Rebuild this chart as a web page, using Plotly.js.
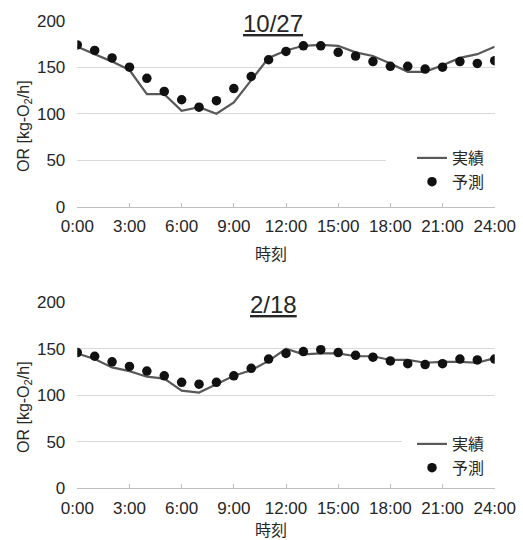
<!DOCTYPE html>
<html><head><meta charset="utf-8">
<script src="https://cdn.plot.ly/plotly-3.0.1.min.js"></script>
<style>html,body{margin:0;padding:0;background:#fff}#c{width:523px;height:540px}</style>
</head><body><div id="c"></div>
<script>
const hours = [0,1,2,3,4,5,6,7,8,9,10,11,12,13,14,15,16,17,18,19,20,21,22,23,24];
const tickVals = [0,3,6,9,12,15,18,21,24];
const tickText = ["0:00","3:00","6:00","9:00","12:00","15:00","18:00","21:00","24:00"];
const seriesNames = ["実績","予測"];
const titles = ["10/27","2/18"];

const oct27Actual = [172,164,156,147,121,121,103,107,100,112,136,160,168,173,174,173,166,162,154,145,145,152,160,164,172];
const oct27Pred   = [174,168,160,150,138,124,115,107,114,127,140,158,167,173,173,166,162,156,151,151,148,150,156,154,157];
const feb18Actual = [145,139,130,126,120,118,105,103,112,121,127,137,150,144,145,145,142,142,138,138,135,136,136,135,140];
const feb18Pred   = [146,142,136,131,126,121,114,112,114,121,129,139,145,147,149,146,143,141,137,134,133,134,139,138,139];

const W = 523, H = 540;
const px = v => v / W;
const py = v => 1 - v / H;

const narrow = "Liberation Sans, Arial, sans-serif";
const cjk = "Noto Sans CJK JP, sans-serif";
const txt = "#262626";

const lineStyle = {color: "#595959", width: 2.2};
const dotStyle = {color: "#111", size: 9.5};

const traces = [
  {x: hours, y: oct27Actual, name: seriesNames[0], mode: "lines", line: lineStyle, xaxis: "x", yaxis: "y", legend: "legend"},
  {x: hours, y: oct27Pred, name: seriesNames[1], mode: "markers", marker: dotStyle, xaxis: "x", yaxis: "y", legend: "legend"},
  {x: hours, y: feb18Actual, name: seriesNames[0], mode: "lines", line: lineStyle, xaxis: "x2", yaxis: "y2", legend: "legend2"},
  {x: hours, y: feb18Pred, name: seriesNames[1], mode: "markers", marker: dotStyle, xaxis: "x2", yaxis: "y2", legend: "legend2"}
];

const xDom = [px(77.3), px(494.7)];
function xax(anchor) {
  return {domain: xDom, anchor: anchor, range: [0, 24], tickvals: tickVals, ticktext: tickText, tickangle: 0,
    ticks: "inside", ticklen: 4, tickcolor: "#bfbfbf", showline: true, linecolor: "#bfbfbf", linewidth: 1,
    showgrid: false, zeroline: false, tickfont: {family: narrow, size: 17, color: txt}, ticklabelstandoff: 4};
}
function yax(anchor, top, bottom) {
  return {domain: [py(bottom), py(top)], anchor: anchor, range: [0, 200], tickvals: [0,50,100,150,200],
    showgrid: true, gridcolor: "#d9d9d9", gridwidth: 1, zeroline: false, showline: false, ticks: "",
    tickfont: {family: narrow, size: 17, color: txt}, ticklabelstandoff: 11};
}

const white = (x0, x1, yc) => ({type: "rect", xref: "paper", yref: "paper", x0: px(x0), x1: px(x1),
  y0: py(yc + 3), y1: py(yc - 3), fillcolor: "#fff", line: {width: 0}, layer: "above"});

const ann = (text, x, y, font, extra) => Object.assign({text: text, xref: "paper", yref: "paper",
  x: px(x), y: py(y), showarrow: false, xanchor: "center", yanchor: "middle", font: font}, extra || {});

const legendBase = {x: px(412), xanchor: "left", yanchor: "middle", bgcolor: "rgba(0,0,0,0)",
  font: {family: cjk, size: 16, color: txt}, tracegroupgap: 0};

const layout = {
  width: W, height: H, margin: {l: 0, r: 0, t: 0, b: 0}, paper_bgcolor: "#fff", plot_bgcolor: "#fff",
  showlegend: true,
  xaxis: xax("y"), yaxis: yax("x", 20.7, 206.7),
  xaxis2: xax("y2"), yaxis2: yax("x2", 302.3, 488.3),
  legend: Object.assign({}, legendBase, {y: py(170)}),
  legend2: Object.assign({}, legendBase, {y: py(456)}),
  shapes: [white(222, 324, 20.7), white(386, 500, 160.7), white(222, 324, 302.3), white(402, 500, 442.3)],
  annotations: [
    ann("<u>" + titles[0] + "</u>", 273, 23, {family: narrow, size: 24, color: txt}),
    ann("<u>" + titles[1] + "</u>", 273, 304, {family: narrow, size: 24, color: txt}),
    ann("時刻", 271, 253, {family: cjk, size: 16, color: txt}),
    ann("時刻", 271, 529, {family: cjk, size: 16, color: txt}),
    ann("OR [kg-O<sub>2</sub>/h]", 24, 126, {family: narrow, size: 16, color: txt}, {textangle: -90}),
    ann("OR [kg-O<sub>2</sub>/h]", 24, 407, {family: narrow, size: 16, color: txt}, {textangle: -90})
  ]
};

Plotly.newPlot("c", traces, layout, {displayModeBar: false, staticPlot: true});
</script></body></html>
